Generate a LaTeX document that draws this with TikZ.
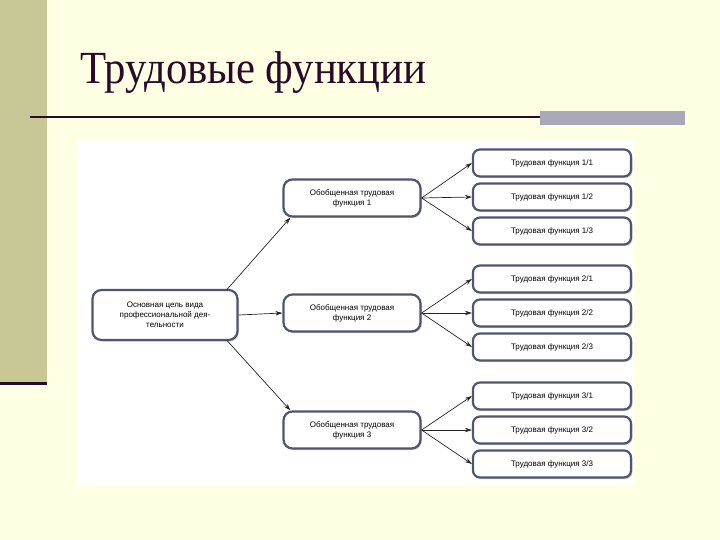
\documentclass[tikz,border=0pt]{standalone}
\usepackage{fontspec}
\setmainfont{Liberation Serif}
\newfontfamily\boxfont{Liberation Sans}
\usetikzlibrary{shadows,arrows.meta}
\definecolor{bg}{HTML}{FFFFE3}
\definecolor{band}{HTML}{C8C896}
\definecolor{dk}{HTML}{2A0A2A}
\definecolor{bar}{HTML}{A8A8B8}
\definecolor{bord}{HTML}{505670}
\tikzset{
 bx/.style={draw=bord,line width=2.2pt,rounded corners=9pt,fill=white,align=center,
   font=\boxfont\fontsize{8}{10}\selectfont,inner sep=2pt,
   drop shadow={shadow xshift=1.5pt,shadow yshift=-1.5pt,fill=black!35}},
 gbox/.style={bx,minimum width=137pt,minimum height=37pt},
 lbox/.style={bx,minimum width=158pt,minimum height=27pt,rounded corners=7pt},
 arr/.style={-{Stealth[length=7pt,width=4.5pt]},line width=0.7pt,black!85}
}
\begin{document}
\begin{tikzpicture}[x=1pt,y=-1pt]
\fill[bg] (0,0) rectangle (720,540);
\fill[band] (0,0) rectangle (47,382);
\fill[dk] (0,382) rectangle (47,385);
\draw[dk,line width=2pt] (30,117) -- (540,117);
\fill[bar] (540,111) rectangle (685,125);
\node[anchor=base west,font=\fontsize{46}{50}\selectfont,text=dk,inner sep=0,xscale=0.93] (title) at (80,84) {Трудовые функции};
\fill[white] (78,140) rectangle (634,485);
\node[bx,minimum width=145pt,minimum height=50pt] (m) at (165,315) {Основная цель вида\\профессиональной дея-\\тельности};
\node[gbox] (g1) at (352,198) {Обобщенная трудовая\\функция 1};
\node[gbox] (g2) at (352,313) {Обобщенная трудовая\\функция 2};
\node[gbox] (g3) at (352,430) {Обобщенная трудовая\\функция 3};
\foreach \g/\y [count=\i] in {1/163,1/197,1/231,2/279,2/313,2/347,3/396,3/430,3/464}{
  \pgfmathtruncatemacro{\k}{mod(\i-1,3)+1}
  \node[lbox] (l\g\k) at (552,\y) {Трудовая функция \g/\k};
  \draw[arr] (g\g.east) -- (l\g\k.west);
}
\draw[arr] ([xshift=-12pt,yshift=-1pt]m.north east) -- ([xshift=8pt]g1.south west);
\draw[arr] (m.east) -- (g2.west);
\draw[arr] ([xshift=-12pt,yshift=1pt]m.south east) -- ([xshift=8pt]g3.north west);
\end{tikzpicture}
\end{document}
